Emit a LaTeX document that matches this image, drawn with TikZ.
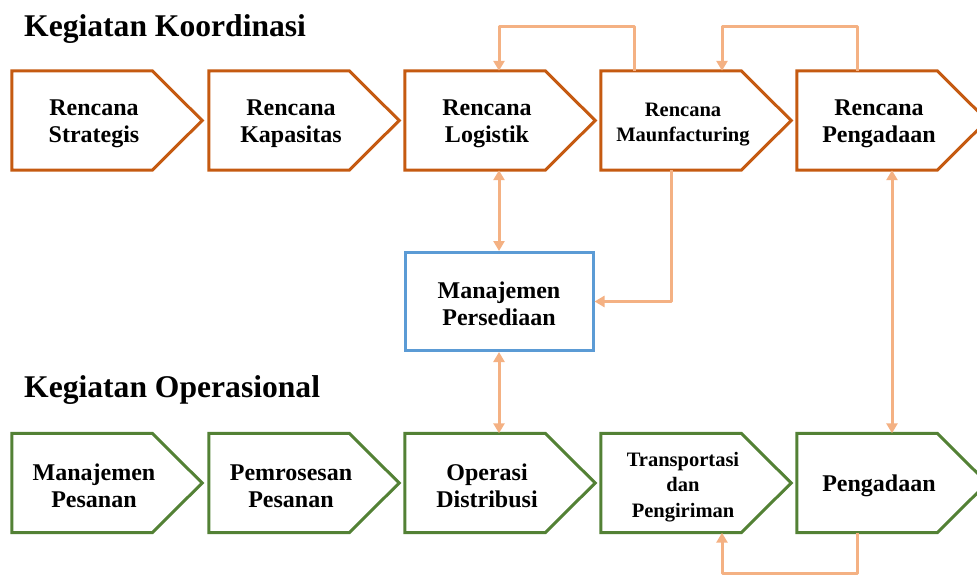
\documentclass[tikz,border=0pt]{standalone}
\usepackage{fontspec}
\setmainfont{Liberation Serif}
\usetikzlibrary{arrows.meta}

\definecolor{koord}{HTML}{C55A11}
\definecolor{opera}{HTML}{538135}
\definecolor{persed}{HTML}{5B9BD5}
\definecolor{panah}{HTML}{F4B183}

\newcommand{\atas}{\rule{0pt}{22pt}}

\tikzset{
	kotak/.style={minimum width=164pt, minimum height=99pt, inner sep=0pt, align=center,
		font=\bfseries\fontsize{24}{27}\selectfont},
	kecil/.style={font=\bfseries\fontsize{20.5}{25.5}\selectfont},
	judul/.style={anchor=base west, inner sep=0pt, font=\bfseries\fontsize{31.6}{36}\selectfont},
	garis/.style={line width=3pt, line join=miter},
	hub/.style={draw=panah, line width=3pt, line join=round, >={Triangle[length=10pt,width=11pt]}}
}

\begin{document}
\begin{tikzpicture}[x=1pt, y=-1pt]
	\useasboundingbox (0,0) rectangle (977,575);

	\node[judul] (jk) at (24,37) {Kegiatan Koordinasi};
	\node[judul] (jo) at (24,397) {Kegiatan Operasional};

	% baris koordinasi
	\node[kotak] (rs) at (94,120.5) {\atas Rencana\\Strategis};
	\node[kotak] (rk) at (291,120.5) {\atas Rencana\\Kapasitas};
	\node[kotak] (rl) at (487,120.5) {\atas Rencana\\Logistik};
	\node[kotak, kecil] (rm) at (683,120.5) {\atas Rencana\\Maunfacturing};
	\node[kotak] (rp) at (879,120.5) {\atas Rencana\\Pengadaan};

	% baris operasional
	\node[kotak] (mps) at (94,483) {\atas Manajemen\\Pesanan};
	\node[kotak] (pp) at (291,483) {\atas Pemrosesan\\Pesanan};
	\node[kotak] (od) at (487,483) {\atas Operasi\\Distribusi};
	\node[kotak, kecil] (tp) at (683,483) {\atas Transportasi\\dan\\Pengiriman};
	\node[kotak] (pg) at (879,483) {\atas Pengadaan};

	\node[kotak, draw=persed, line width=3pt, minimum width=188pt, minimum height=98pt]
		(mp) at (499,301.5) {\atas Manajemen\\Persediaan};

	\foreach \n in {rs,rk,rl,rm,rp}
		\draw[garis, draw=koord] (\n.north west) -- ([xshift=-24pt]\n.north east) -- ([xshift=26pt]\n.east)
			-- ([xshift=-24pt]\n.south east) -- (\n.south west) -- cycle;
	\foreach \n in {mps,pp,od,tp,pg}
		\draw[garis, draw=opera] (\n.north west) -- ([xshift=-24pt]\n.north east) -- ([xshift=26pt]\n.east)
			-- ([xshift=-24pt]\n.south east) -- (\n.south west) -- cycle;

	\draw[hub,->] ([xshift=-49pt]rm.north) -- ++(0,-44) -| ([xshift=12pt]rl.north);
	\draw[hub,->] ([xshift=-22pt]rp.north) -- ++(0,-44) -| ([xshift=39pt]rm.north);
	\draw[hub,<->] (rl.south -| mp.north) -- (mp.north);
	\draw[hub,->] ([xshift=-12pt]rm.south) |- (mp.east);
	\draw[hub,<->] (mp.south) -- (mp.south |- od.north);
	\draw[hub,<->] ([xshift=13pt]rp.south) -- ([xshift=13pt]pg.north);
	\draw[hub,->] ([xshift=-22pt]pg.south) -- ++(0,41) -| ([xshift=39pt]tp.south);
\end{tikzpicture}
\end{document}
